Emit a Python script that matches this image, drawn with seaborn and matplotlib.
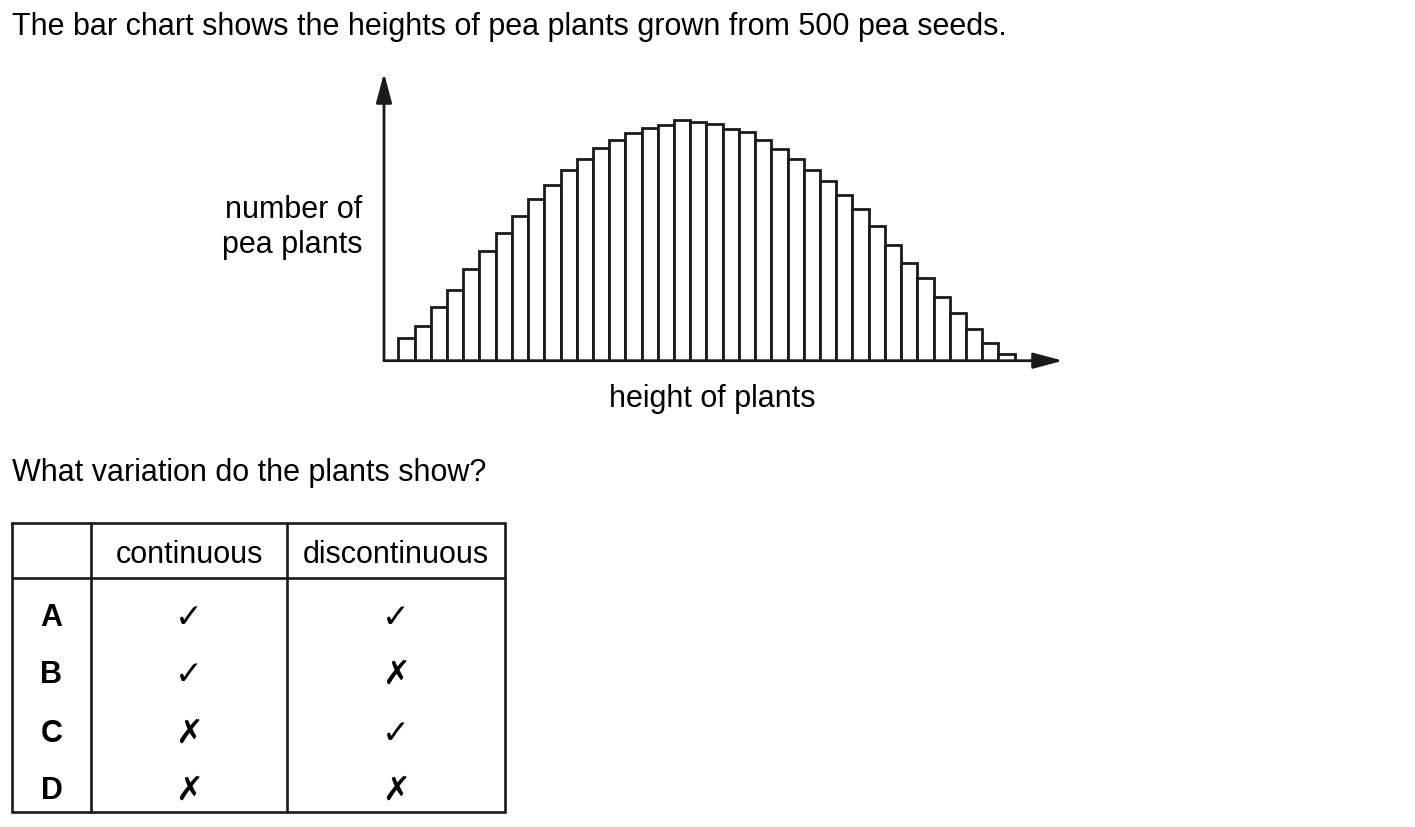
import numpy as np
import pandas as pd
import matplotlib
matplotlib.use("Agg")
import matplotlib.pyplot as plt
import seaborn as sns

# heights of the 38 bars (relative)
bar_heights = [23, 35, 54, 71, 92, 110, 128, 145, 162, 176, 191, 202, 213, 221,
               228, 233, 236, 241, 239, 237, 232, 229, 221, 212, 202, 191, 180,
               166, 152, 135, 116, 98, 83, 64, 48, 32, 18, 7]
bins = list(range(len(bar_heights)))

# answer table
options = ["A", "B", "C", "D"]
continuous = [True, True, False, False]
discontinuous = [True, False, True, False]
col_names = ["continuous", "discontinuous"]

title = "The bar chart shows the heights of pea plants grown from 500 pea seeds."
question = "What variation do the plants show?"

sns.set_theme(style="white")
plt.rcParams["font.family"] = ["Liberation Sans", "DejaVu Sans"]
plt.rcParams["text.color"] = "black"
ink = "#1a1a1a"
fs = 22

W, H = 1415, 828
fig = plt.figure(figsize=(W / 100, H / 100), dpi=100)
fig.patch.set_facecolor("white")

# overlay in pixel coords for the text + table
bg = fig.add_axes([0, 0, 1, 1])
bg.set_xlim(0, W)
bg.set_ylim(H, 0)
bg.axis("off")

bg.text(12, 35, title, fontsize=fs, va="baseline")
bg.text(12, 481, question, fontsize=fs, va="baseline")
bg.text(362, 218, "number of", fontsize=fs, ha="right", va="baseline")
bg.text(362, 253, "pea plants", fontsize=fs, ha="right", va="baseline")
bg.text(712, 407, "height of plants", fontsize=fs, ha="center", va="baseline")

# ---- table ----
lw_t = 1.9
tx0, tx1 = 12, 505
ty0, ty1 = 524, 813
cols = [tx0, 91, 287, tx1]
bg.plot([tx0, tx1, tx1, tx0, tx0], [ty0, ty0, ty1, ty1, ty0], color=ink, lw=lw_t,
        solid_joinstyle="miter")
bg.plot([tx0, tx1], [579, 579], color=ink, lw=lw_t)
for cx in cols[1:3]:
    bg.plot([cx, cx], [ty0, ty1], color=ink, lw=lw_t)

for i, name in enumerate(col_names):
    xc = (cols[i + 1] + cols[i + 2]) / 2
    bg.text(xc, 563, name, fontsize=fs, ha="center", va="baseline")

row_base = [626, 683, 742, 799]
for opt, c1, c2, yb in zip(options, continuous, discontinuous, row_base):
    bg.text((cols[0] + cols[1]) / 2, yb, opt, fontsize=fs, fontweight="bold",
            ha="center", va="baseline")
    for val, i in ((c1, 1), (c2, 2)):
        xc = (cols[i] + cols[i + 1]) / 2
        bg.text(xc, yb + 1, "\u2713" if val else "\u2717", fontsize=fs + 2,
                family=["DejaVu Sans"], ha="center", va="baseline")

# ---- bar chart ----
left, right = 384, 1063
base, top = 361.7, 74
ax = fig.add_axes([left / W, (H - base) / H, (right - left) / W, (base - top) / H])
ax.patch.set_alpha(0)
df = pd.DataFrame({"bin": bins, "count": bar_heights})
sns.barplot(data=df, x="bin", y="count", ax=ax, width=1.0, color="white",
            edgecolor=ink, linewidth=2.0, saturation=1)
px = 16.22
ax.set_xlim(-0.5 - (398.3 - left) / px, -0.5 + (right - 398.3) / px)
ax.set_ylim(0, base - top)
for s in ax.spines.values():
    s.set_visible(False)
ax.set_xticks([])
ax.set_yticks([])
ax.set_xlabel("")
ax.set_ylabel("")

arrow = dict(arrowstyle="-|>,head_length=0.6,head_width=0.16", color=ink, lw=2.0,
             mutation_scale=30, shrinkA=0, shrinkB=0)
ax.annotate("", xy=(0, 1), xytext=(0, 0), xycoords="axes fraction",
            textcoords="axes fraction", arrowprops=arrow, annotation_clip=False)
ax.annotate("", xy=(1, 0), xytext=(0, 0), xycoords="axes fraction",
            textcoords="axes fraction", arrowprops=arrow, annotation_clip=False)

fig.savefig("out.png", dpi=100, facecolor="white")
